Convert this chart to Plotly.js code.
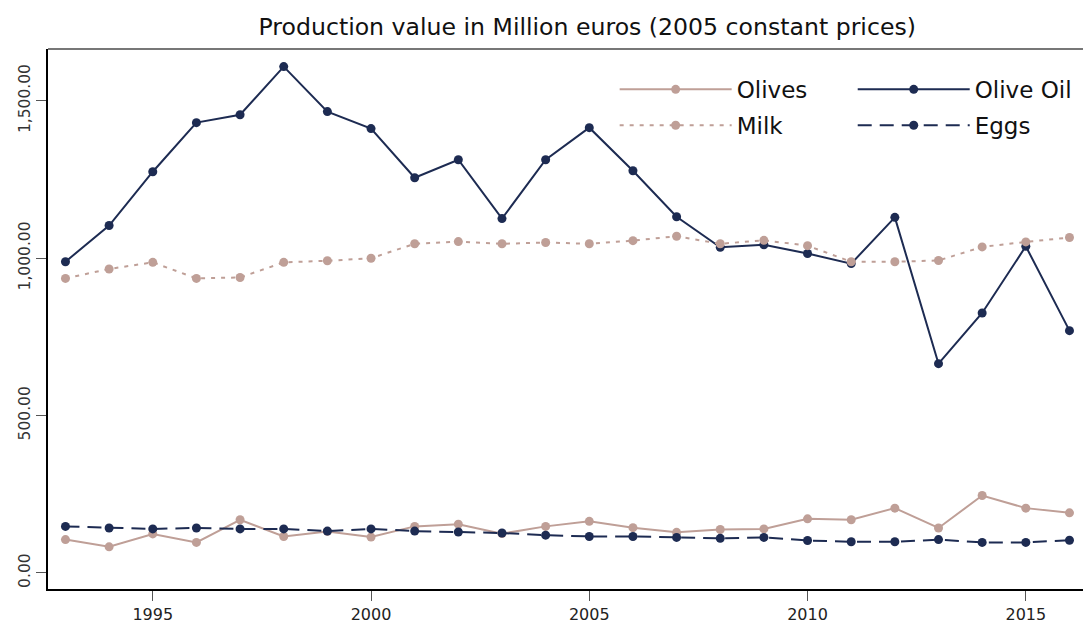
<!DOCTYPE html>
<html>
<head>
<meta charset="utf-8">
<script src="https://cdn.plot.ly/plotly-3.0.1.min.js"></script>
<style>html,body{margin:0;padding:0;background:#fff;}#chart{width:1083px;height:626px;}</style>
</head>
<body>
<div id="chart"></div>
<script>
const years = [1993,1994,1995,1996,1997,1998,1999,2000,2001,2002,2003,2004,2005,2006,2007,2008,2009,2010,2011,2012,2013,2014,2015,2016];
const olives   = [106,83,124,97,169,116,132,114,148,155,125,148,164,144,129,138,140,172,169,206,143,246,206,191];
const oliveOil = [989,1104,1275,1431,1456,1609,1466,1412,1256,1313,1126,1313,1415,1278,1132,1035,1043,1015,983,1130,665,826,1038,770];
const milk     = [936,966,987,936,939,987,992,1000,1046,1053,1046,1050,1046,1056,1070,1046,1057,1040,989,989,993,1036,1052,1066];
const eggs     = [148,143,140,143,140,140,133,140,133,130,127,120,116,116,113,110,113,103,99,99,106,97,97,104];
const seriesNames = ["Olives","Olive Oil","Milk","Eggs"];
const xTicks = [1995,2000,2005,2010,2015];
const yTicks = [0,500,1000,1500];

const PINK = "#bf9f97";
const NAVY = "#1d2b52";
const FONT = "DejaVu Sans, Verdana, sans-serif";

const traces = [
  {x: years, y: olives, name: seriesNames[0], mode: "lines+markers", legend: "legend", legendgroup: "a",
   line: {color: PINK, width: 2}, marker: {color: PINK, size: 9}},
  {x: years, y: oliveOil, name: seriesNames[1], mode: "lines+markers", legend: "legend2", legendgroup: "c",
   line: {color: NAVY, width: 2}, marker: {color: NAVY, size: 9}},
  {x: years, y: milk, name: seriesNames[2], mode: "lines+markers", legend: "legend", legendgroup: "b",
   line: {color: PINK, width: 2, dash: "4px,6px"}, marker: {color: PINK, size: 9}},
  {x: years, y: eggs, name: seriesNames[3], mode: "lines+markers", legend: "legend2", legendgroup: "d",
   line: {color: NAVY, width: 2, dash: "14px,8px"}, marker: {color: NAVY, size: 9}}
];

const legendBase = {
  xanchor: "left", y: 0.965, yanchor: "top", orientation: "v",
  bgcolor: "rgba(0,0,0,0)", font: {family: FONT, size: 23, color: "#111"},
  itemwidth: 112, tracegroupgap: 3, traceorder: "grouped"
};

const layout = {
  width: 1083, height: 626,
  paper_bgcolor: "#fff", plot_bgcolor: "#fff",
  margin: {l: 48, r: 0, t: 49, b: 37, pad: 0},
  font: {family: FONT, color: "#222"},
  title: {text: "Production value in Million euros (2005 constant prices)",
          font: {family: FONT, size: 23.6, color: "#111"},
          xref: "paper", x: 0.521, xanchor: "center",
          yref: "container", y: 0.957, yanchor: "middle"},
  xaxis: {range: [1992.6, 2016.31], tickvals: xTicks, ticktext: xTicks.map(String),
          showgrid: false, zeroline: false, showline: true, linecolor: "#000", linewidth: 2,
          ticks: "outside", ticklen: 10, tickcolor: "#555", tickwidth: 1,
          tickfont: {family: FONT, size: 16, color: "#222"}},
  yaxis: {range: [-51, 1665], tickvals: yTicks, tickformat: ",.2f",
          showgrid: false, zeroline: false, showline: true, linecolor: "#000", linewidth: 2,
          ticks: "outside", ticklen: 10, tickcolor: "#555", tickwidth: 1, tickangle: -90,
          tickfont: {family: FONT, size: 15.5, color: "#333"}},
  shapes: [{type: "line", xref: "paper", yref: "paper", x0: 0, x1: 1, y0: 1, y1: 1,
            line: {color: "#777", width: 2}}],
  showlegend: true,
  legend: Object.assign({}, legendBase, {x: 0.5475}),
  legend2: Object.assign({}, legendBase, {x: 0.7775})
};

Plotly.newPlot("chart", traces, layout, {displayModeBar: false, staticPlot: true});
</script>
</body>
</html>
